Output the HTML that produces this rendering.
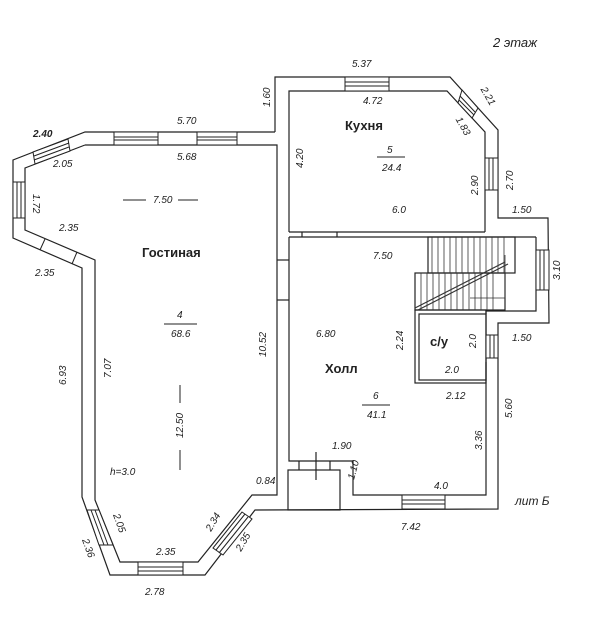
<!DOCTYPE html>
<html><head><meta charset="utf-8"><style>
html,body{margin:0;padding:0;background:#fff;}
svg{display:block;}
text{font-family:"Liberation Sans",sans-serif;font-style:italic;font-size:10px;fill:#222;}
.b{font-style:normal;font-weight:bold;font-size:13px;}
</style></head><body>
<svg width="600" height="626" viewBox="0 0 600 626" xmlns="http://www.w3.org/2000/svg">
<g fill="none" stroke="#222" stroke-width="1.2">
<polyline points="275,132 275,77 450,77 498,130 498,218 548,218 549,323 498,323 498,509 255,510 205,575 110,575 82,497 82,268 13,238 13,160 85,132 275,132"/>
<polyline points="85,145 277,145 277,495 252,495 198,562 120,562 95,500 95,260 25,230 25,168 85,145"/>
<polyline points="289,232 289,91 447,91 485,132 485,232"/>
<line x1="289" y1="232" x2="485" y2="232"/>
<line x1="289" y1="237" x2="536" y2="237"/>
<polyline points="289,237 289,461 353,461 353,495 486,495 486,362"/>
<polyline points="536,237 536,311 486,311 486,314"/>
<rect x="415" y="310" width="71" height="73"/>
<rect x="419" y="314" width="67" height="66"/>
<rect x="288" y="470" width="52" height="40"/>
<line x1="299" y1="461" x2="299" y2="470"/><line x1="330" y1="461" x2="330" y2="470"/>
<line x1="316" y1="452" x2="316" y2="480"/>
<line x1="277" y1="260" x2="289" y2="260"/><line x1="277" y1="300" x2="289" y2="300"/>
<line x1="302" y1="232" x2="302" y2="237"/><line x1="337" y1="232" x2="337" y2="237"/>
<rect x="428" y="237" width="87" height="36"/>
<rect x="415" y="273" width="90" height="37"/>
</g>
<g stroke="#333" stroke-width="0.8">
<line x1="432" y1="237" x2="432" y2="273"/><line x1="438" y1="237" x2="438" y2="273"/><line x1="444" y1="237" x2="444" y2="273"/><line x1="450" y1="237" x2="450" y2="273"/><line x1="456" y1="237" x2="456" y2="273"/><line x1="462" y1="237" x2="462" y2="273"/><line x1="468" y1="237" x2="468" y2="273"/><line x1="474" y1="237" x2="474" y2="273"/><line x1="480" y1="237" x2="480" y2="273"/><line x1="486" y1="237" x2="486" y2="273"/><line x1="492" y1="237" x2="492" y2="273"/><line x1="498" y1="237" x2="498" y2="273"/><line x1="504" y1="237" x2="504" y2="273"/>
<line x1="421" y1="273" x2="421" y2="310"/><line x1="427" y1="273" x2="427" y2="310"/><line x1="433" y1="273" x2="433" y2="310"/><line x1="439" y1="273" x2="439" y2="310"/><line x1="445" y1="273" x2="445" y2="310"/><line x1="451" y1="273" x2="451" y2="310"/><line x1="457" y1="273" x2="457" y2="310"/><line x1="463" y1="273" x2="463" y2="310"/><line x1="469" y1="273" x2="469" y2="310"/><line x1="475" y1="273" x2="475" y2="310"/><line x1="481" y1="273" x2="481" y2="310"/><line x1="487" y1="273" x2="487" y2="310"/><line x1="493" y1="273" x2="493" y2="310"/>
<line x1="415" y1="308" x2="505" y2="262" stroke-width="1.2"/><line x1="418" y1="310" x2="508" y2="264" stroke-width="1.2"/>
<polyline points="505,255 505,298 470,298" fill="none"/>
</g>
<g fill="#fff" stroke="#222" stroke-width="1">
<rect x="114" y="132" width="44" height="13"/><line x1="114" y1="137" x2="158" y2="137"/><line x1="114" y1="140" x2="158" y2="140"/>
<rect x="197" y="132" width="40" height="13"/><line x1="197" y1="137" x2="237" y2="137"/><line x1="197" y1="140" x2="237" y2="140"/>
<rect x="345" y="77" width="44" height="14"/><line x1="345" y1="82" x2="389" y2="82"/><line x1="345" y1="86" x2="389" y2="86"/>
<rect x="13" y="182" width="12" height="36"/><line x1="17" y1="182" x2="17" y2="218"/><line x1="21" y1="182" x2="21" y2="218"/>
<rect x="485" y="158" width="13" height="32"/><line x1="489" y1="158" x2="489" y2="190"/><line x1="493" y1="158" x2="493" y2="190"/>
<rect x="536" y="250" width="13" height="40"/><line x1="540" y1="250" x2="540" y2="290"/><line x1="544" y1="250" x2="544" y2="290"/>
<rect x="486" y="335" width="12" height="23"/><line x1="490" y1="335" x2="490" y2="358"/><line x1="494" y1="335" x2="494" y2="358"/>
<rect x="402" y="495" width="43" height="14"/><line x1="402" y1="500" x2="445" y2="500"/><line x1="402" y1="504" x2="445" y2="504"/>
<rect x="138" y="562" width="45" height="13"/><line x1="138" y1="567" x2="183" y2="567"/><line x1="138" y1="571" x2="183" y2="571"/>
<polygon points="33,152 68,139 70,151 35,164"/><line x1="34" y1="156" x2="69" y2="143"/><line x1="34" y1="160" x2="69" y2="147"/>
<polygon points="462,90 478,108 472,118 458,103"/><line x1="460" y1="96" x2="475" y2="112"/><line x1="459" y1="100" x2="474" y2="115"/>
<line x1="40" y1="250" x2="45" y2="239"/><line x1="72" y1="264" x2="77" y2="252"/>
<polygon points="87,510 99,545 113,545 99,510"/><line x1="91" y1="510" x2="104" y2="545"/><line x1="95" y1="510" x2="108" y2="545"/>
<polygon points="213,548 242,512 252,519 223,555"/><line x1="216" y1="550" x2="245" y2="514"/><line x1="219" y1="553" x2="248" y2="517"/>
</g>
<line x1="123" y1="200" x2="146" y2="200" stroke="#222"/><line x1="178" y1="200" x2="198" y2="200" stroke="#222"/>
<line x1="180" y1="385" x2="180" y2="403" stroke="#222"/><line x1="180" y1="450" x2="180" y2="470" stroke="#222"/>
<line x1="164" y1="324" x2="197" y2="324" stroke="#222"/><line x1="377" y1="157" x2="405" y2="157" stroke="#222"/><line x1="362" y1="405" x2="390" y2="405" stroke="#222"/>
<g>
<text x="493" y="47" style="font-size:13px">2 этаж</text>
<text x="352" y="67">5.37</text><text x="363" y="104">4.72</text>
<text x="480" y="96" transform="rotate(60 486 93)">2.21</text>
<text x="455" y="126" transform="rotate(60 461 123)">1.83</text>
<text x="345" y="130" class="b">Кухня</text>
<text x="387" y="153">5</text><text x="382" y="171">24.4</text>
<text transform="translate(303,168) rotate(-90)">4.20</text>
<text transform="translate(478,195) rotate(-90)">2.90</text>
<text transform="translate(513,190) rotate(-90)">2.70</text>
<text x="392" y="213">6.0</text><text x="512" y="213">1.50</text>
<text transform="translate(560,280) rotate(-90)">3.10</text>
<text x="373" y="259">7.50</text>
<text transform="translate(270,107) rotate(-90)">1.60</text>
<text x="177" y="124">5.70</text><text x="177" y="160">5.68</text>
<text x="33" y="137" style="font-weight:bold">2.40</text>
<text x="53" y="167">2.05</text>
<text transform="translate(33,194) rotate(90)">1.72</text>
<text x="59" y="231">2.35</text><text x="35" y="276">2.35</text>
<text x="153" y="203">7.50</text>
<text x="142" y="257" class="b">Гостиная</text>
<text x="177" y="318">4</text><text x="171" y="337">68.6</text>
<text transform="translate(266,357) rotate(-90)">10.52</text>
<text transform="translate(66,385) rotate(-90)">6.93</text>
<text transform="translate(111,378) rotate(-90)">7.07</text>
<text transform="translate(183,438) rotate(-90)">12.50</text>
<text x="110" y="475">h=3.0</text><text x="256" y="484">0.84</text>
<text transform="translate(113,515) rotate(70)">2.05</text>
<text transform="translate(82,540) rotate(70)">2.36</text>
<text x="156" y="555">2.35</text>
<text transform="translate(211,532) rotate(-60)">2.34</text>
<text transform="translate(241,552) rotate(-60)">2.35</text>
<text x="145" y="595">2.78</text>
<text x="316" y="337">6.80</text>
<text x="325" y="373" class="b">Холл</text>
<text x="373" y="399">6</text><text x="367" y="418">41.1</text>
<text transform="translate(403,350) rotate(-90)">2.24</text>
<text x="430" y="346" class="b">с/у</text>
<text transform="translate(476,348) rotate(-90)">2.0</text>
<text x="445" y="373">2.0</text><text x="512" y="341">1.50</text>
<text x="446" y="399">2.12</text>
<text transform="translate(512,418) rotate(-90)">5.60</text>
<text transform="translate(482,450) rotate(-90)">3.36</text>
<text x="332" y="449">1.90</text>
<text transform="translate(354,480) rotate(-75)">1.10</text>
<text x="434" y="489">4.0</text>
<text x="515" y="505" style="font-size:12px">лит Б</text>
<text x="401" y="530">7.42</text>
</g>
</svg>
</body></html>
